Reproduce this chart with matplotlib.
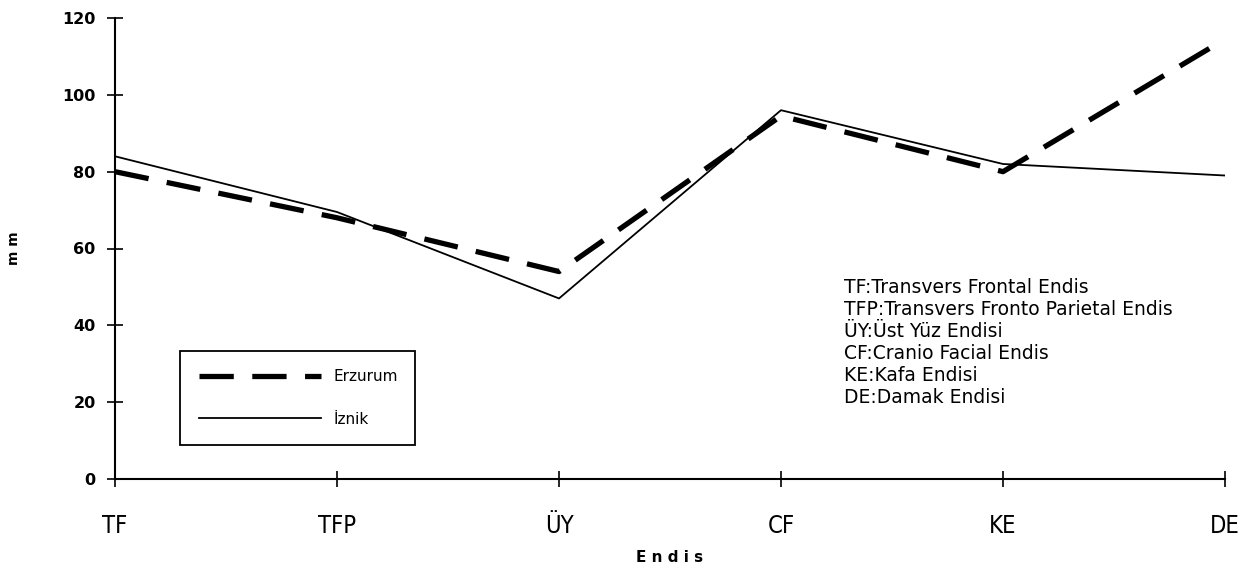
import numpy as np
from matplotlib import pyplot as plt

# endis kategorileri ve iki grup
categories = ['TF', 'TFP', 'ÜY', 'CF', 'KE', 'DE']
erzurum = [80, 68, 54, 94.5, 80, 114.5]
iznik = [84, 69.5, 47, 96, 82, 79]
y_ticks = [0, 20, 40, 60, 80, 100, 120]

notes = ['TF:Transvers Frontal Endis',
         'TFP:Transvers Fronto Parietal Endis',
         'ÜY:Üst Yüz Endisi',
         'CF:Cranio Facial Endis',
         'KE:Kafa Endisi',
         'DE:Damak Endisi']


def main():
    fig = plt.figure(figsize=(12.47, 5.70), dpi=100)
    ax = fig.add_axes([115 / 1247, 91 / 570, 1110 / 1247, 461 / 570])

    x = np.arange(len(categories))
    ax.plot(x, erzurum, color='black', lw=3.8, dashes=(6.5, 3.5),
            solid_capstyle='butt', dash_capstyle='butt', label='Erzurum')
    ax.plot(x, iznik, color='black', lw=1.3, label='İznik')

    ax.set_xlim(0, len(categories) - 1)
    ax.set_ylim(0, 120)
    ax.set_yticks(y_ticks)
    ax.set_xticks(x)
    ax.set_xticklabels(categories, fontsize=17, fontstretch='condensed',
                       family='Liberation Sans Narrow')
    for lab in ax.get_yticklabels():
        lab.set_fontweight('bold')
        lab.set_fontsize(11.5)
    ax.tick_params(axis='both', direction='inout', length=12, width=1.2)
    ax.tick_params(axis='y', pad=8)
    ax.tick_params(axis='x', pad=19)

    ax.spines['top'].set_visible(False)
    ax.spines['right'].set_visible(False)
    ax.spines['left'].set_linewidth(1.5)
    ax.spines['bottom'].set_linewidth(1.5)

    ax.set_xlabel('E n d i s', fontsize=11, fontweight='bold', labelpad=9)
    ax.set_ylabel('m m', fontsize=10, fontweight='bold', labelpad=30)

    leg = ax.legend(loc='lower left', bbox_to_anchor=(0.059, 0.074, 0.211, 0.249),
                    mode='expand', fancybox=False, edgecolor='black',
                    framealpha=1, handlelength=8, labelspacing=1.8,
                    borderpad=1.2, fontsize=11, borderaxespad=0)
    leg.get_frame().set_linewidth(1.3)

    ax.text(0.657, 0.435, '\n'.join(notes), transform=ax.transAxes,
            fontsize=13.5, va='top', ha='left', linespacing=1.2)

    fig.savefig('out.png', dpi=100)
    plt.close()


if __name__ == '__main__':
    main()
